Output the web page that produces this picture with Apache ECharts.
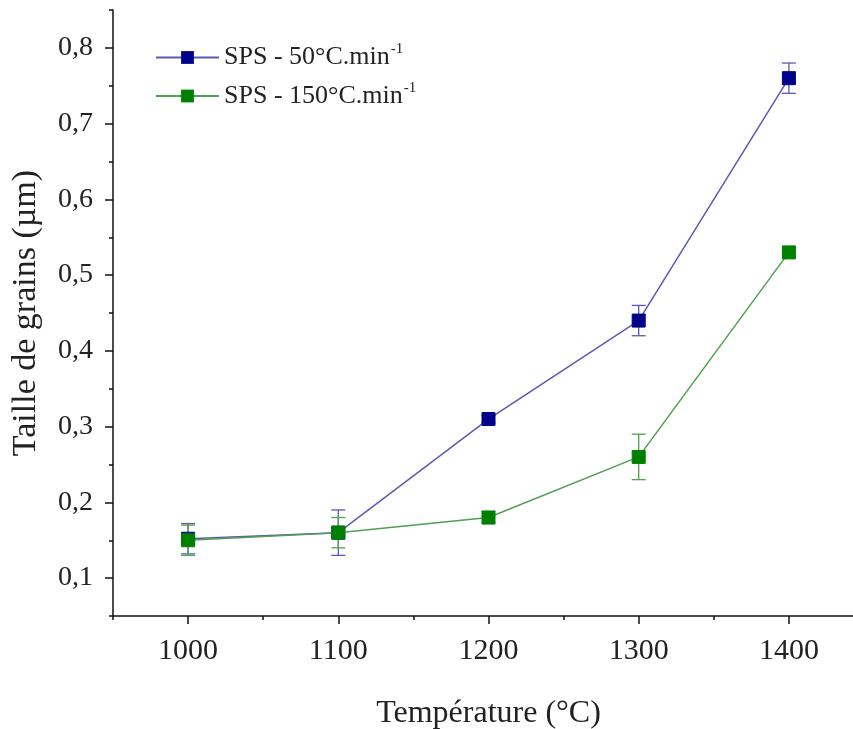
<!DOCTYPE html>
<html>
<head>
<meta charset="utf-8">
<script src="https://cdn.jsdelivr.net/npm/echarts@6/dist/echarts.min.js"></script>
<style>
  html, body { margin: 0; padding: 0; background: #fff; }
  #main { width: 853px; height: 729px; }
</style>
</head>
<body>
<div id="main"></div>
<script>
// données
var temperatures = [1000, 1100, 1200, 1300, 1400];
var blueMean = [0.152, 0.16, 0.31, 0.44, 0.76];
var blueErr = [0.02, 0.03, 0.005, 0.02, 0.02];
var greenMean = [0.15, 0.16, 0.18, 0.26, 0.53];
var greenErr = [0.02, 0.02, 0.008, 0.03, 0.006];
var xMajorTicks = [1000, 1100, 1200, 1300, 1400];
var xMinorTicks = [950, 1050, 1150, 1250, 1350, 1450];
var yMajorTicks = [0.1, 0.2, 0.3, 0.4, 0.5, 0.6, 0.7, 0.8];
var yMinorTicks = [0.05, 0.15, 0.25, 0.35, 0.45, 0.55, 0.65, 0.75, 0.85];
var seriesNames = ["SPS - 50°C.min", "SPS - 150°C.min"];

var FONT = "Liberation Serif";
var BLUE = "#00008b", BLUE_LINE = "#5a5ab4";
var GREEN = "#008000", GREEN_LINE = "#4fa04f";

function pairs(xs, ys) {
  return xs.map(function (x, i) { return [x, ys[i]]; });
}
function errData(xs, ys, es) {
  return xs.map(function (x, i) { return [x, ys[i] - es[i], ys[i] + es[i]]; });
}
function errRender(color) {
  return function (params, api) {
    var x = api.value(0);
    var lo = api.coord([x, api.value(1)]);
    var hi = api.coord([x, api.value(2)]);
    var w = 7;
    var style = { stroke: color, lineWidth: 1.3 };
    return {
      type: "group",
      children: [
        { type: "line", shape: { x1: lo[0], y1: lo[1], x2: hi[0], y2: hi[1] }, style: style },
        { type: "line", shape: { x1: lo[0] - w, y1: lo[1], x2: lo[0] + w, y2: lo[1] }, style: style },
        { type: "line", shape: { x1: hi[0] - w, y1: hi[1], x2: hi[0] + w, y2: hi[1] }, style: style }
      ]
    };
  };
}

var myChart = echarts.init(document.getElementById("main"));
var axisLine = { lineStyle: { color: "#111", width: 1.5 } };
var option = {
  backgroundColor: "#fff",
  animation: false,
  grid: { left: 113, top: 10, bottom: 113, right: -11, outerBoundsMode: "none", containLabel: false },
  legend: {
    orient: "vertical",
    left: 150,
    top: 37,
    itemWidth: 63,
    itemHeight: 16,
    itemGap: 10,
    data: seriesNames,
    formatter: function (name) { return name + "{sup|-1}"; },
    textStyle: {
      fontFamily: FONT, fontSize: 26, color: "#222",
      rich: { sup: { fontFamily: FONT, fontSize: 15, color: "#222", verticalAlign: "top", padding: [0, 0, 16, 1] } }
    }
  },
  xAxis: [
    {
      type: "value", min: 950, max: 1450,
      name: "Température (°C)", nameLocation: "middle", nameGap: 82,
      nameTextStyle: { fontFamily: FONT, fontSize: 32, color: "#222" },
      axisLine: axisLine,
      axisTick: { show: true, length: 8, customValues: xMajorTicks, lineStyle: { color: "#111", width: 1.5 } },
      axisLabel: {
        customValues: xMajorTicks, margin: 20, fontFamily: FONT, fontSize: 30, color: "#222",
        formatter: function (v) { return String(v); }
      },
      splitLine: { show: false }
    },
    {
      type: "value", min: 950, max: 1450, position: "bottom",
      axisLine: { show: false },
      axisTick: { show: true, length: 4, customValues: xMinorTicks, lineStyle: { color: "#111", width: 1.5 } },
      axisLabel: { show: false },
      splitLine: { show: false }
    }
  ],
  yAxis: [
    {
      type: "value", min: 0.05, max: 0.85,
      name: "Taille de grains (µm)", nameLocation: "middle", nameGap: 70,
      nameTextStyle: { fontFamily: FONT, fontSize: 34, color: "#222" },
      axisLine: axisLine,
      axisTick: { show: true, length: 8, customValues: yMajorTicks, lineStyle: { color: "#111", width: 1.5 } },
      axisLabel: {
        customValues: yMajorTicks, margin: 20, fontFamily: FONT, fontSize: 28, color: "#222",
        formatter: function (v) { return v.toFixed(1).replace(".", ","); }
      },
      splitLine: { show: false }
    },
    {
      type: "value", min: 0.05, max: 0.85, position: "left",
      axisLine: { show: false },
      axisTick: { show: true, length: 4, customValues: yMinorTicks, lineStyle: { color: "#111", width: 1.5 } },
      axisLabel: { show: false },
      splitLine: { show: false }
    }
  ],
  series: [
    {
      type: "custom", renderItem: errRender(BLUE_LINE),
      data: errData(temperatures, blueMean, blueErr), z: 1, silent: true
    },
    {
      type: "custom", renderItem: errRender(GREEN_LINE),
      data: errData(temperatures, greenMean, greenErr), z: 1, silent: true
    },
    {
      name: seriesNames[0], type: "line", data: pairs(temperatures, blueMean),
      symbol: "rect", symbolSize: 13, z: 3,
      itemStyle: { color: BLUE, borderColor: BLUE },
      lineStyle: { color: BLUE_LINE, width: 1.5 }
    },
    {
      name: seriesNames[1], type: "line", data: pairs(temperatures, greenMean),
      symbol: "rect", symbolSize: 13, z: 4,
      itemStyle: { color: GREEN, borderColor: GREEN },
      lineStyle: { color: GREEN_LINE, width: 1.5 }
    }
  ]
};
myChart.setOption(option);
window.addEventListener("resize", function () {
  myChart.resize();
});
</script>
</body>
</html>
